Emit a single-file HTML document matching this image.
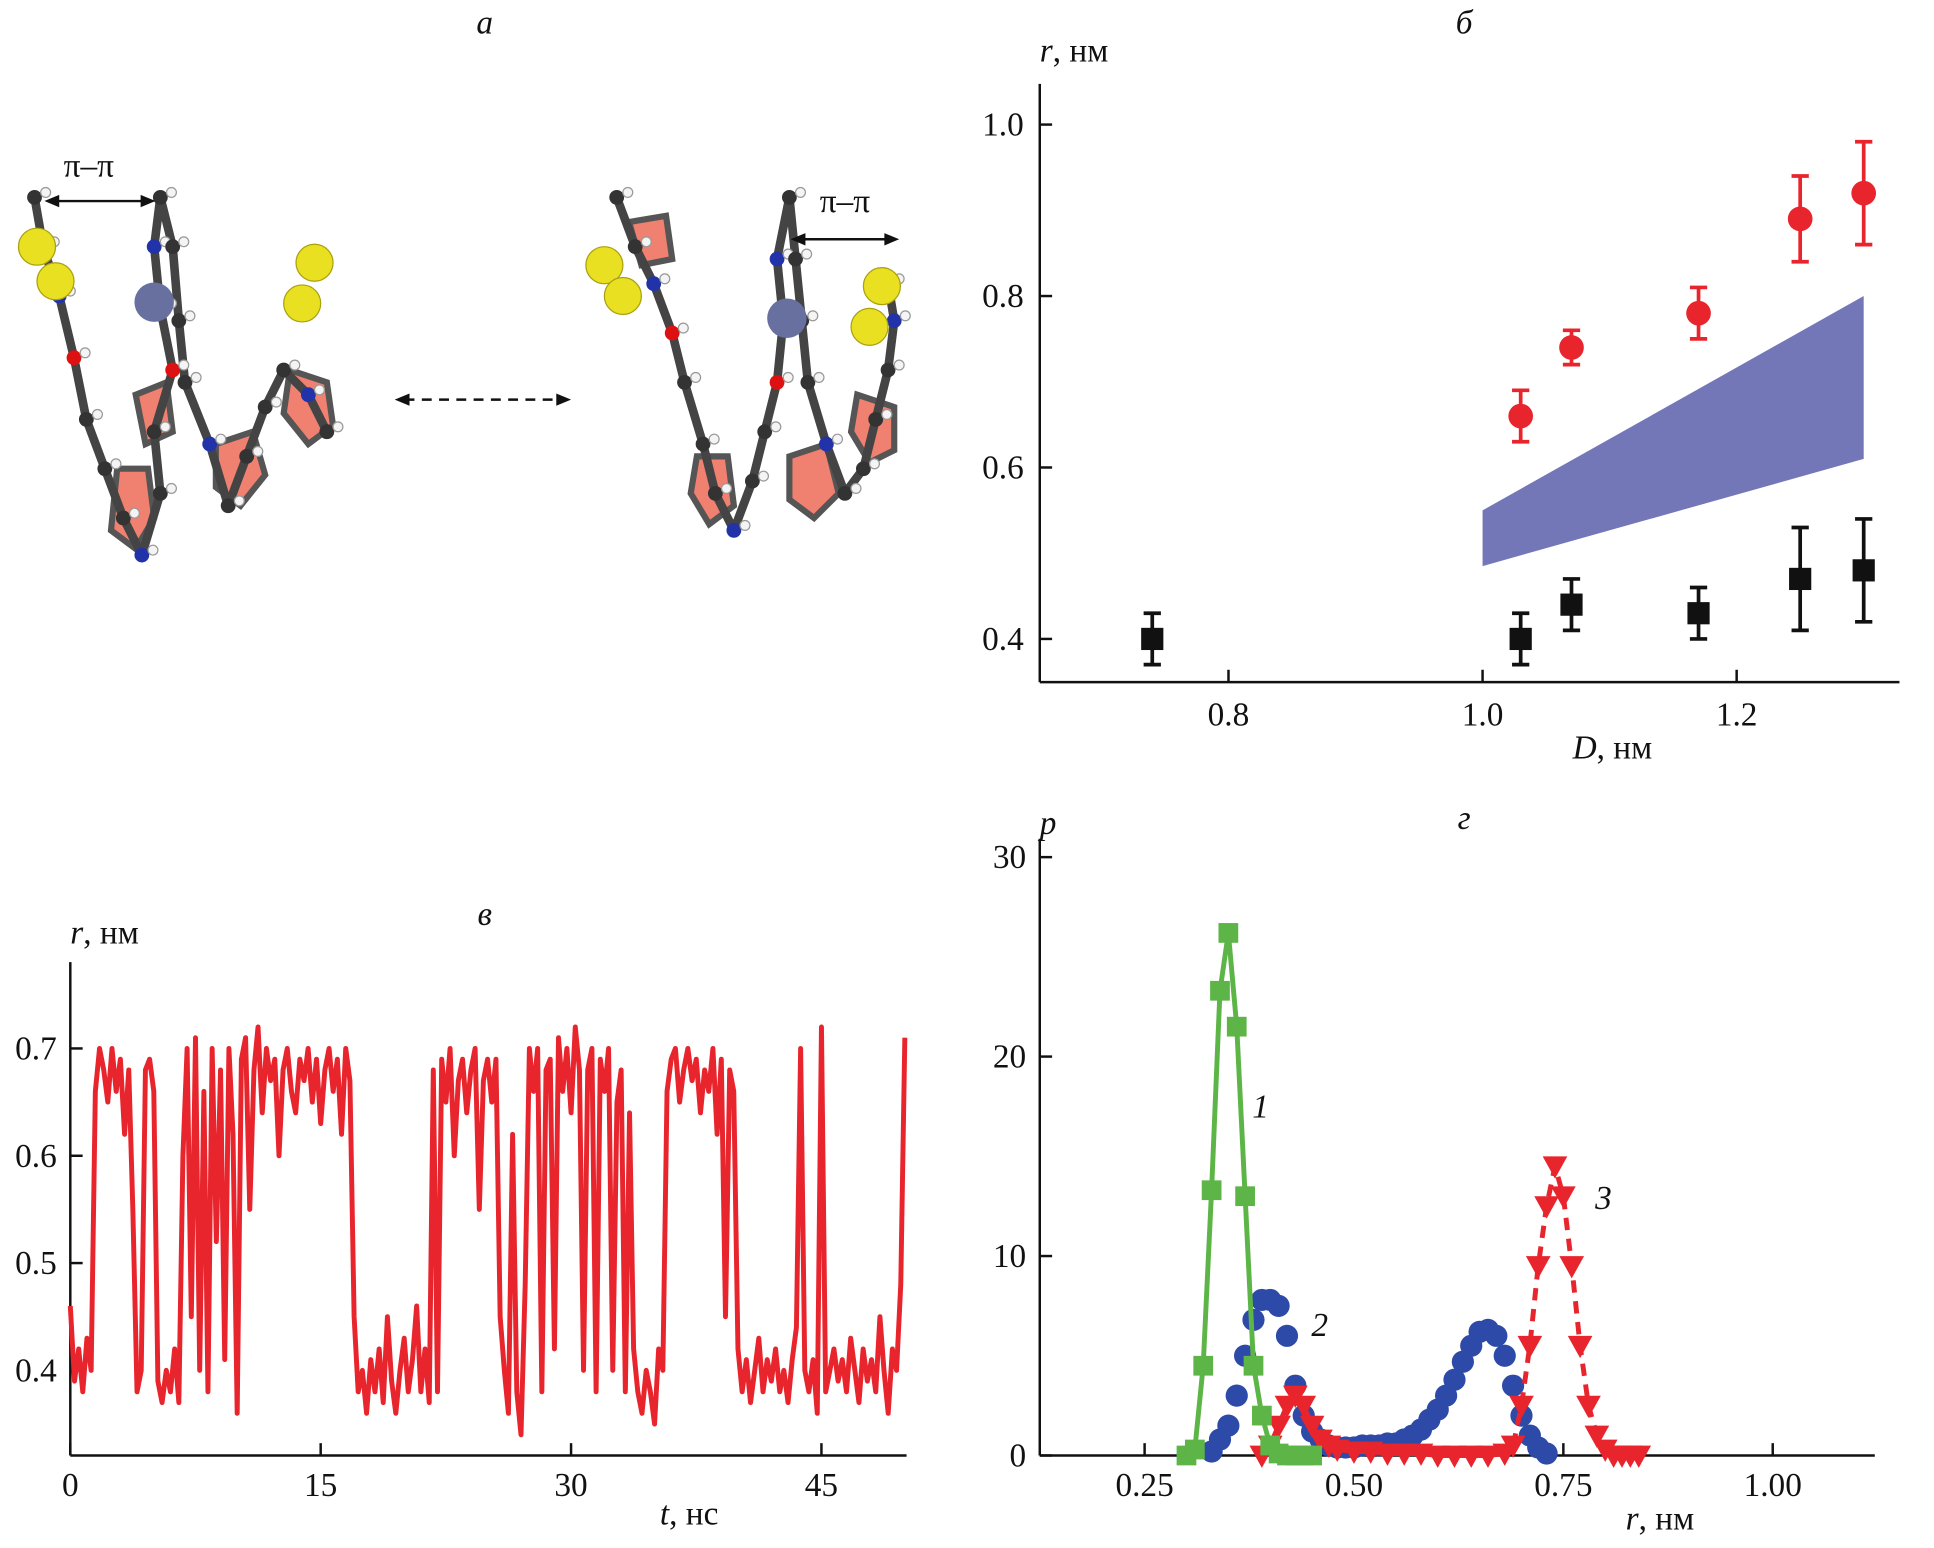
<!DOCTYPE html>
<html><head><meta charset="utf-8"><style>
html,body{margin:0;padding:0;background:#fff}
svg{display:block}
text{font-family:"Liberation Serif",serif;fill:#111}
.t{font-size:27px}
.i{font-style:italic}
</style></head><body>
<svg id="fig" width="1934" height="1548" viewBox="0 0 1568 1255" preserveAspectRatio="none" xmlns="http://www.w3.org/2000/svg">
<g id="pa"></g>
<g id="pb"></g>
<g id="pc"></g>
<g id="pd"></g>
</svg>
<script>
// ---------- Panel б data ----------
const bRedD=[1.03,1.07,1.17,1.25,1.30];
const bRedR=[0.66,0.74,0.78,0.89,0.92];
const bRedErr=[0.03,0.02,0.03,0.05,0.06];
const bBlkD=[0.74,1.03,1.07,1.17,1.25,1.30];
const bBlkR=[0.40,0.40,0.44,0.43,0.47,0.48];
const bBlkErr=[0.03,0.03,0.03,0.03,0.06,0.06];
const bBandD=[1.0,1.3];
const bBandHi=[0.55,0.80];
const bBandLo=[0.485,0.61];
const bXTicks=[0.8,1.0,1.2];
const bYTicks=[0.4,0.6,0.8,1.0];
// ---------- Panel в data ----------
const cStep=0.25;
const cR=[.46,.39,.42,.38,.43,.40,.66,.70,
.68,.65,.70,.66,.69,.62,.68,.55,
.38,.40,.68,.69,.66,.39,.37,.40,
.38,.42,.37,.60,.70,.45,.71,.40,
.66,.38,.70,.52,.68,.41,.70,.62,
.36,.69,.71,.55,.68,.72,.64,.70,
.67,.69,.60,.68,.70,.66,.64,.69,
.67,.70,.65,.69,.63,.68,.70,.66,
.69,.62,.70,.67,.45,.38,.40,.36,
.41,.38,.42,.37,.45,.39,.36,.40,
.43,.38,.41,.46,.38,.42,.37,.68,
.38,.69,.65,.70,.60,.67,.69,.64,
.68,.70,.55,.67,.69,.65,.69,.45,
.40,.36,.62,.38,.34,.48,.70,.66,
.70,.38,.68,.69,.42,.71,.66,.70,
.64,.72,.68,.40,.68,.70,.38,.69,
.66,.70,.40,.65,.68,.38,.64,.42,
.38,.36,.40,.38,.35,.42,.40,.66,
.69,.70,.65,.68,.70,.67,.69,.64,
.68,.66,.70,.62,.69,.45,.68,.66,
.42,.38,.41,.37,.40,.43,.38,.41,
.39,.42,.38,.40,.37,.41,.44,.70,
.40,.38,.41,.36,.72,.38,.40,.42,
.39,.41,.38,.43,.40,.37,.42,.39,
.41,.38,.45,.40,.36,.42,.40,.48,.71];
const cXTicks=[0,15,30,45];
const cYTicks=[0.4,0.5,0.6,0.7];
// ---------- Panel г data ----------
const d1R=[0.30,0.31,0.32,0.33,0.34,0.35,0.36,0.37,0.38,0.39,0.40,0.41,0.42,0.43,0.44,0.45];
const d1P=[0,0.3,4.5,13.3,23.3,26.2,21.5,13,4.5,2,0.5,0.1,0,0,0,0];
const d2R=[0.33,0.34,0.35,0.36,0.37,0.38,0.39,0.40,0.41,0.42,0.43,0.44,0.45,0.46,0.47,0.48,0.49,0.50,0.51,0.52,0.53,0.54,0.55,0.56,0.57,0.58,0.59,0.60,0.61,0.62,0.63,0.64,0.65,0.66,0.67,0.68,0.69,0.70,0.71,0.72,0.73];
const d2P=[0.2,0.8,1.5,3,5,6.8,7.8,7.8,7.5,6,3.5,2,1.2,0.8,0.5,0.4,0.4,0.4,0.5,0.5,0.5,0.6,0.6,0.8,1,1.3,1.8,2.3,3,3.8,4.7,5.5,6.2,6.3,6,5,3.5,2,1,0.4,0.1];
const d3R=[0.39,0.40,0.41,0.42,0.43,0.44,0.45,0.46,0.47,0.48,0.50,0.52,0.54,0.56,0.58,0.60,0.62,0.64,0.66,0.68,0.69,0.70,0.71,0.72,0.73,0.74,0.75,0.76,0.77,0.78,0.79,0.80,0.81,0.82,0.83,0.84];
const d3P=[0,0.5,1.5,2.5,3,2.5,1.5,0.8,0.5,0.3,0.2,0.2,0.1,0.1,0.1,0,0,0,0,0.1,0.5,2.5,5.5,9.5,12.5,14.5,13,9.5,5.5,2.5,1,0.3,0,0,0,0];
const dXTicks=[0.25,0.50,0.75,1.00];
const dYTicks=[0,10,20,30];

const NS="http://www.w3.org/2000/svg";
function mk(parent,tag,attrs,txt){const e=document.createElementNS(NS,tag);for(const k in attrs)e.setAttribute(k,attrs[k]);if(txt!==undefined)e.textContent=txt;parent.appendChild(e);return e;}

// ---------- Panel б ----------
(function(){
const g=document.getElementById('pb');
const X=v=>996+(v-0.8)*1030, Y=v=>518-(v-0.4)*695;
let e;
e=mk(g,'line',{x1:843,y1:68,x2:843,y2:553,stroke:'#111','stroke-width':2});

e=mk(g,'line',{x1:843,y1:553,x2:1540,y2:553,stroke:'#111','stroke-width':2});

bYTicks.forEach(v=>{mk(g,'line',{x1:843,y1:Y(v),x2:853,y2:Y(v),stroke:'#111','stroke-width':2});
 e=mk(g,'text',{x:830,y:Y(v)+9,'text-anchor':'end',class:'t'},v.toFixed(1));
 });
bXTicks.forEach(v=>{mk(g,'line',{x1:X(v),y1:553,x2:X(v),y2:543,stroke:'#111','stroke-width':2});
 e=mk(g,'text',{x:X(v),y:588,'text-anchor':'middle',class:'t'},v.toFixed(1));
 });
e=mk(g,'polygon',{points:`${X(bBandD[0])},${Y(bBandHi[0])} ${X(bBandD[1])},${Y(bBandHi[1])} ${X(bBandD[1])},${Y(bBandLo[1])} ${X(bBandD[0])},${Y(bBandLo[0])}`,fill:'#7377b8'});

bRedD.forEach((d,i)=>{const x=X(d);
 mk(g,'line',{x1:x,y1:Y(bRedR[i]+bRedErr[i]),x2:x,y2:Y(bRedR[i]-bRedErr[i]),stroke:'#e8242c','stroke-width':3});
 mk(g,'line',{x1:x-7,y1:Y(bRedR[i]+bRedErr[i]),x2:x+7,y2:Y(bRedR[i]+bRedErr[i]),stroke:'#e8242c','stroke-width':3});
 mk(g,'line',{x1:x-7,y1:Y(bRedR[i]-bRedErr[i]),x2:x+7,y2:Y(bRedR[i]-bRedErr[i]),stroke:'#e8242c','stroke-width':3});
 e=mk(g,'circle',{cx:x,cy:Y(bRedR[i]),r:10,fill:'#e8242c'});
 });
bBlkD.forEach((d,i)=>{const x=X(d);
 mk(g,'line',{x1:x,y1:Y(bBlkR[i]+bBlkErr[i]),x2:x,y2:Y(bBlkR[i]-bBlkErr[i]),stroke:'#111','stroke-width':3});
 mk(g,'line',{x1:x-7,y1:Y(bBlkR[i]+bBlkErr[i]),x2:x+7,y2:Y(bBlkR[i]+bBlkErr[i]),stroke:'#111','stroke-width':3});
 mk(g,'line',{x1:x-7,y1:Y(bBlkR[i]-bBlkErr[i]),x2:x+7,y2:Y(bBlkR[i]-bBlkErr[i]),stroke:'#111','stroke-width':3});
 e=mk(g,'rect',{x:x-9,y:Y(bBlkR[i])-9,width:18,height:18,fill:'#111'});
 });
})();

// ---------- Panel в ----------
(function(){
const g=document.getElementById('pc');
const X=v=>57+v*13.533, Y=v=>1111-(v-0.4)*870;
let e;
e=mk(g,'line',{x1:57,y1:780,x2:57,y2:1180,stroke:'#111','stroke-width':2});

e=mk(g,'line',{x1:57,y1:1180,x2:735,y2:1180,stroke:'#111','stroke-width':2});

cYTicks.forEach(v=>{mk(g,'line',{x1:57,y1:Y(v),x2:67,y2:Y(v),stroke:'#111','stroke-width':2});
 e=mk(g,'text',{x:46,y:Y(v)+9,'text-anchor':'end',class:'t'},v.toFixed(1));
 });
cXTicks.forEach(v=>{mk(g,'line',{x1:X(v),y1:1180,x2:X(v),y2:1170,stroke:'#111','stroke-width':2});
 e=mk(g,'text',{x:X(v),y:1213,'text-anchor':'middle',class:'t'},String(v));
 });
const pts=cR.map((r,i)=>X(i*cStep).toFixed(1)+','+Y(r).toFixed(1)).join(' ');
e=mk(g,'polyline',{points:pts,fill:'none',stroke:'#e8242c','stroke-width':4,'stroke-linejoin':'round'});

})();

// ---------- Panel г ----------
(function(){
const g=document.getElementById('pd');
const X=v=>928+(v-0.25)*679, Y=v=>1180-v*16.17;
let e;
e=mk(g,'line',{x1:843,y1:680,x2:843,y2:1180,stroke:'#111','stroke-width':2});

e=mk(g,'line',{x1:843,y1:1180,x2:1520,y2:1180,stroke:'#111','stroke-width':2});

dYTicks.forEach(v=>{mk(g,'line',{x1:843,y1:Y(v),x2:853,y2:Y(v),stroke:'#111','stroke-width':2});
 e=mk(g,'text',{x:832,y:Y(v)+9,'text-anchor':'end',class:'t'},String(v));
 });
dXTicks.forEach(v=>{mk(g,'line',{x1:X(v),y1:1180,x2:X(v),y2:1170,stroke:'#111','stroke-width':2});
 e=mk(g,'text',{x:X(v),y:1213,'text-anchor':'middle',class:'t'},v.toFixed(2));
 });
// series 2 (blue)
d2R.forEach((r,i)=>{e=mk(g,'circle',{cx:X(r),cy:Y(d2P[i]),r:9,fill:'#2d4aa8'});
 });
// series 3 (red)
const s3a=[],s3b=[];d3R.forEach((r,i)=>{const p=X(r).toFixed(1)+','+Y(d3P[i]).toFixed(1);if(r<=0.69)s3a.push(p);if(r>=0.69)s3b.push(p);});
e=mk(g,'polyline',{points:s3a.join(' '),fill:'none',stroke:'#e8242c','stroke-width':4});

e=mk(g,'polyline',{points:s3b.join(' '),fill:'none',stroke:'#e8242c','stroke-width':4,'stroke-dasharray':'10,7'});

d3R.forEach((r,i)=>{const x=X(r),y=Y(d3P[i]);
 e=mk(g,'polygon',{points:`${x-10},${y-8} ${x+10},${y-8} ${x},${y+10}`,fill:'#e8242c'});
 });
// series 1 (green)
e=mk(g,'polyline',{points:d1R.map((r,i)=>X(r).toFixed(1)+','+Y(d1P[i]).toFixed(1)).join(' '),fill:'none',stroke:'#5cb546','stroke-width':4});

d1R.forEach((r,i)=>{e=mk(g,'rect',{x:X(r)-8,y:Y(d1P[i])-8,width:16,height:16,fill:'#5cb546'});
 });
})();

// ---------- Panel а: molecules ----------
(function(){
const g=document.getElementById('pa');
function mol(ox,chain,rings,yel,blue,name){
 const m=mk(g,'g',{transform:`translate(${ox},0)`});
 
 rings.forEach(r=>mk(m,'polygon',{points:r,fill:'#f08070',stroke:'#555','stroke-width':5}));
 mk(m,'polyline',{points:chain.map(p=>p.join(',')).join(' '),fill:'none',stroke:'#444','stroke-width':7,'stroke-linejoin':'round'});
 chain.forEach((p,i)=>{mk(m,'circle',{cx:p[0],cy:p[1],r:6,fill:i%5==2?'#2233aa':(i%7==3?'#dd1111':'#333')});
  mk(m,'circle',{cx:p[0]+9,cy:p[1]-4,r:4,fill:'#f4f4f4',stroke:'#999','stroke-width':1});});
 yel.forEach(p=>mk(m,'circle',{cx:p[0],cy:p[1],r:15,fill:'#e8e020',stroke:'#aaa010','stroke-width':1}));
 mk(m,'circle',{cx:blue[0],cy:blue[1],r:16,fill:'#6870a0'});
}
mol(0,[[28,160],[35,200],[48,240],[60,290],[70,340],[85,380],[100,420],[115,450],[130,400],[125,350],[140,300],[130,250],[125,200],[130,160],[140,200],[145,260],[150,310],[170,360],[185,410],[200,370],[215,330],[230,300],[250,320],[265,350]],
 ['95,380 120,380 125,420 110,445 90,430','175,360 205,350 215,385 195,410 175,395','235,300 265,310 270,345 250,360 230,335','110,320 135,310 140,350 118,360'],
 [[30,200],[45,228],[255,213],[245,246]],[125,245],'molecule-left');
mol(470,[[30,160],[45,200],[60,230],[75,270],[85,310],[100,360],[110,400],[125,430],[140,390],[150,350],[160,310],[165,260],[160,210],[170,160],[175,210],[180,260],[185,310],[200,360],[215,400],[230,380],[240,340],[250,300],[255,260],[250,230]],
 ['95,370 120,370 125,410 105,425 90,400','170,370 200,360 210,400 190,420 170,405','225,320 255,330 255,365 235,375 220,350','40,180 70,175 75,210 50,215'],
 [[20,215],[35,240],[245,232],[235,265]],[168,258],'molecule-right');
let e;
e=mk(g,'line',{x1:40,y1:163,x2:122,y2:163,stroke:'#111','stroke-width':2});

mk(g,'polygon',{points:'36,163 48,158 48,168',fill:'#111'});mk(g,'polygon',{points:'126,163 114,158 114,168',fill:'#111'});
e=mk(g,'text',{x:72,y:143,'text-anchor':'middle',class:'t'},'π–π');

e=mk(g,'line',{x1:645,y1:194,x2:725,y2:194,stroke:'#111','stroke-width':2});

mk(g,'polygon',{points:'641,194 653,189 653,199',fill:'#111'});mk(g,'polygon',{points:'729,194 717,189 717,199',fill:'#111'});
e=mk(g,'text',{x:685,y:172,'text-anchor':'middle',class:'t'},'π–π');

e=mk(g,'line',{x1:328,y1:324,x2:455,y2:324,stroke:'#111','stroke-width':2,'stroke-dasharray':'8,6'});

mk(g,'polygon',{points:'320,324 332,319 332,329',fill:'#111'});mk(g,'polygon',{points:'463,324 451,319 451,329',fill:'#111'});
})();

// ---------- labels ----------
(function(){
const s=document.getElementById('fig');
const L=[['panel-a-label',393,27,'а',true],['panel-b-label',1187,27,'б',true],['panel-c-label',393,750,'в',true],['panel-d-label',1187,672,'г',true],
['d-curve-1-label',1022,906,'1',true],['d-curve-2-label',1070,1083,'2',true],['d-curve-3-label',1300,980,'3',true]];
L.forEach(l=>{const e=mk(s,'text',{x:l[1],y:l[2],'text-anchor':'middle',class:'t i'},l[3]);
 });
const A=[['b-y-axis-title',843,50,'r'],['b-x-axis-title',1275,615,'D'],['c-y-axis-title',57,765,'r'],['c-x-axis-title',535,1236,'t'],['d-x-axis-title',1318,1240,'r']];
const U=['нм','нм','нм','нс','нм'];
A.forEach((a,i)=>{const e=mk(s,'text',{x:a[1],y:a[2],class:'t'});
 
 mk(e,'tspan',{'font-style':'italic'},a[3]);mk(e,'tspan',{},', '+U[i]);});
const p=mk(s,'text',{x:843,y:676,class:'t i'},'p');

})();
</script>
</body></html>
